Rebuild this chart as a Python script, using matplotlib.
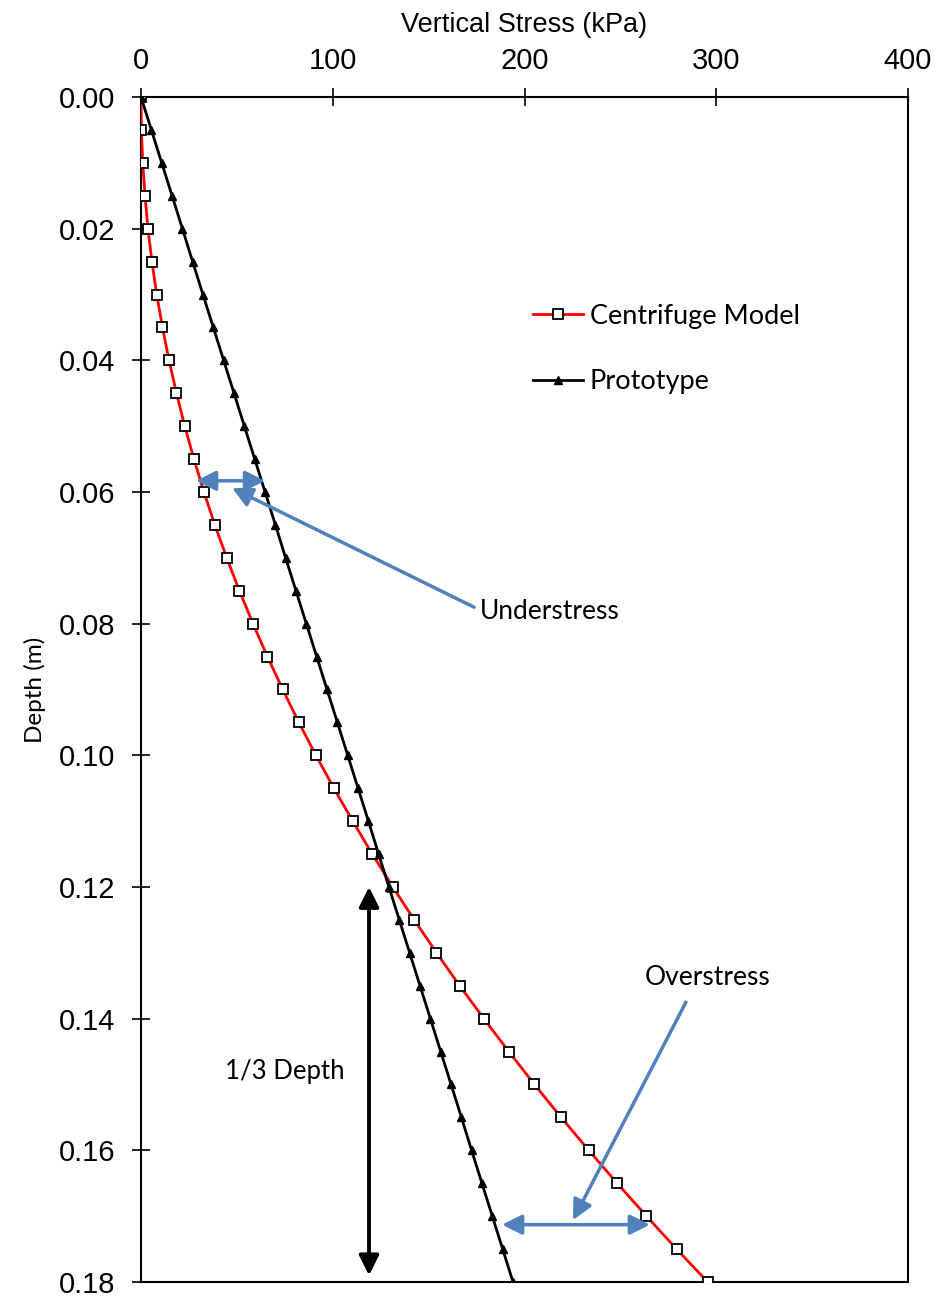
#!/usr/bin/env python3

import matplotlib
matplotlib.use('Agg')
import matplotlib.pyplot as plt
import matplotlib.ticker as mtick

# Vertical stress with depth: centrifuge model vs. prototype
depth = [0.000, 0.005, 0.010, 0.015, 0.020, 0.025, 0.030, 0.035, 0.040,
         0.045, 0.050, 0.055, 0.060, 0.065, 0.070, 0.075, 0.080, 0.085,
         0.090, 0.095, 0.100, 0.105, 0.110, 0.115, 0.120, 0.125, 0.130,
         0.135, 0.140, 0.145, 0.150, 0.155, 0.160, 0.165, 0.170, 0.175,
         0.180]
centrifuge = [0.0, 0.2, 0.9, 2.1, 3.6, 5.7, 8.2, 11.2, 14.6, 18.5, 22.8,
              27.6, 32.8, 38.5, 44.7, 51.3, 58.4, 65.9, 73.9, 82.3, 91.2,
              100.6, 110.4, 120.6, 131.3, 142.5, 154.1, 166.2, 178.8, 191.8,
              205.2, 219.1, 233.5, 248.3, 263.6, 279.3, 295.5]
prototype = [0.0, 5.4, 10.8, 16.2, 21.6, 26.9, 32.3, 37.7, 43.1, 48.5, 53.9,
             59.3, 64.7, 70.1, 75.4, 80.8, 86.2, 91.6, 97.0, 102.4, 107.8,
             113.2, 118.6, 123.9, 129.3, 134.7, 140.1, 145.5, 150.9, 156.3,
             161.7, 167.1, 172.4, 177.8, 183.2, 188.6, 194.0]

x_ticks = [0, 100, 200, 300, 400]
y_ticks = [0.00, 0.02, 0.04, 0.06, 0.08, 0.10, 0.12, 0.14, 0.16, 0.18]

AXFONT = ['Liberation Sans', 'DejaVu Sans']
TEXT = ['Lato', 'DejaVu Sans']
BLUE = '#4F81BD'

fig = plt.figure(figsize=(9.42, 12.97), dpi=100)
ax = fig.add_axes([0.1497, 0.0116, 0.8142, 0.9136])

ax.plot(centrifuge, depth, color='red', lw=2.0, marker='s', ms=6.5,
        mfc='white', mec='black', mew=1.3, label='Centrifuge Model', zorder=3)
ax.plot(prototype, depth, color='black', lw=2.0, marker='^', ms=6,
        mfc='black', mec='black', label='Prototype', zorder=3)

ax.set_xlim(0, 400)
ax.set_ylim(0.18, 0.0)
ax.xaxis.tick_top()
ax.xaxis.set_label_position('top')
ax.set_xticks(x_ticks)
ax.set_yticks(y_ticks)
ax.yaxis.set_major_formatter(mtick.FormatStrFormatter('%.2f'))
ax.tick_params(direction='inout', length=13, width=1.2)
ax.tick_params(axis='x', pad=9)
ax.tick_params(axis='y', pad=12)
for lbl in ax.get_xticklabels() + ax.get_yticklabels():
    lbl.set_family(AXFONT)
    lbl.set_fontsize(21)
for s in ax.spines.values():
    s.set_linewidth(1.5)

ax.set_xlabel('Vertical Stress (kPa)', family=AXFONT, fontsize=19.5, labelpad=11)
ax.set_ylabel('Depth (m)', family=TEXT, fontsize=17.5, labelpad=9)

arrow_kw = dict(lw=2.5, mutation_scale=30, shrinkA=0, shrinkB=0)

# understress
ax.annotate('', xy=(28.7, 0.0583), xytext=(64.7, 0.0583),
            arrowprops=dict(arrowstyle='<|-|>', color=BLUE, **arrow_kw))
ax.annotate('', xy=(47.5, 0.0594), xytext=(173.7, 0.0775),
            arrowprops=dict(arrowstyle='-|>', color=BLUE, **arrow_kw))
ax.text(176.5, 0.0781, 'Understress', family=TEXT, fontsize=19,
        ha='left', va='center')

# overstress
ax.annotate('', xy=(188.3, 0.1713), xytext=(265.4, 0.1713),
            arrowprops=dict(arrowstyle='<|-|>', color=BLUE, **arrow_kw))
ax.annotate('', xy=(225.3, 0.1706), xytext=(284.2, 0.1375),
            arrowprops=dict(arrowstyle='-|>', color=BLUE, **arrow_kw))
ax.text(295.7, 0.1337, 'Overstress', family=TEXT, fontsize=19,
        ha='center', va='center')

# one third of the depth
ax.annotate('', xy=(118.9, 0.1200), xytext=(118.9, 0.1790),
            arrowprops=dict(arrowstyle='<|-|>', color='black', lw=2.8,
                            mutation_scale=30, shrinkA=0, shrinkB=0))
ax.text(75.1, 0.1480, '1/3 Depth', family=TEXT, fontsize=18.5,
        ha='center', va='center')

leg = ax.legend(loc='upper left', bbox_to_anchor=(0.479, 0.846), frameon=False,
                handlelength=1.85, handletextpad=0.25, labelspacing=1.5,
                prop={'family': TEXT, 'size': 19.5})

fig.savefig('out.png', dpi=100)
